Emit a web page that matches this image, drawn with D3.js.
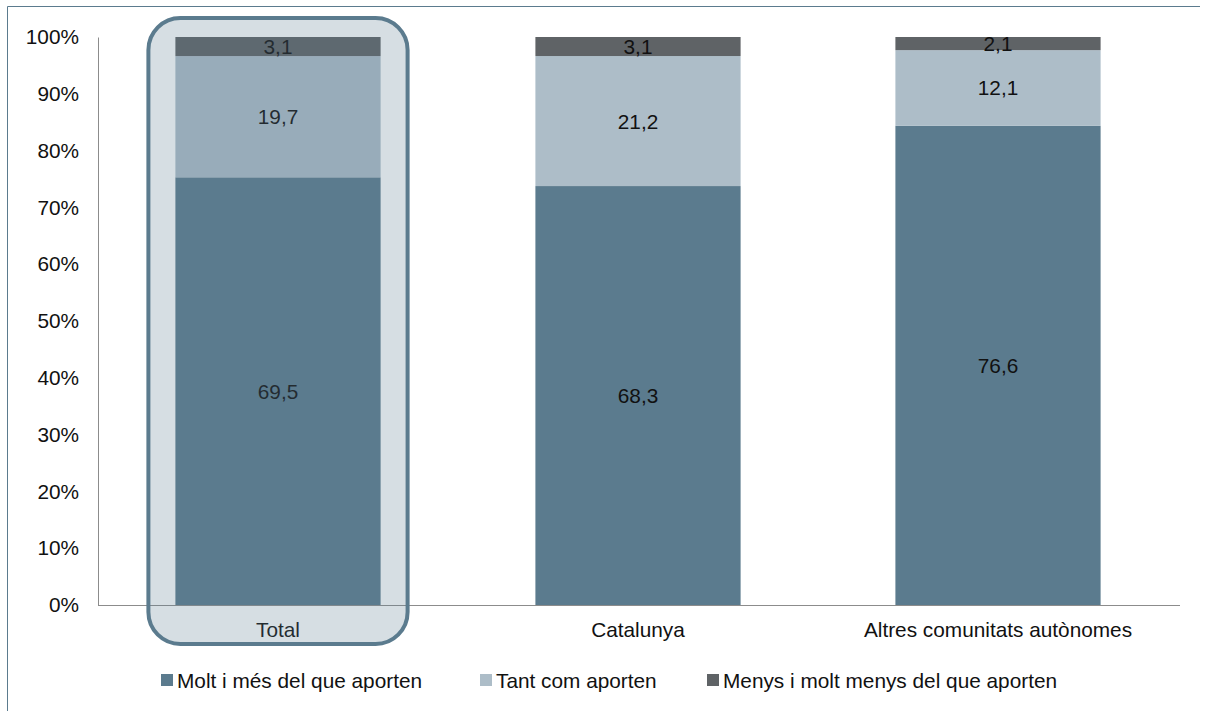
<!DOCTYPE html>
<html>
<head>
<meta charset="utf-8">
<script src="https://cdn.jsdelivr.net/npm/d3@7"></script>
<style>
  body { margin: 0; background: #fff; }
  svg { display: block; font-family: "Liberation Sans", Arial, sans-serif; }
</style>
</head>
<body>
<div id="chart"></div>
<script>
const categories = ['Total', 'Catalunya', 'Altres comunitats autònomes'];
const seriesNames = ['Molt i més del que aporten', 'Tant com aporten', 'Menys i molt menys del que aporten'];
const molt = [69.5, 68.3, 76.6];
const tant = [19.7, 21.2, 12.1];
const menys = [3.1, 3.1, 2.1];
const tickLabels = ['0%', '10%', '20%', '30%', '40%', '50%', '60%', '70%', '80%', '90%', '100%'];

const colors = ['#5b7b8e', '#adbdc8', '#5f6366'];
const fontSize = '20.8px';

const width = 1207, height = 711;
const x0 = 98, x1 = 1178, yTop = 37, yBottom = 605;

const rows = categories.map((c, i) => ({ cat: c, s0: molt[i], s1: tant[i], s2: menys[i] }));
const keys = ['s0', 's1', 's2'];

const stack = d3.stack().keys(keys).offset(d3.stackOffsetExpand);
const stacked = stack(rows);

const x = d3.scaleBand().domain(categories).range([x0, x1]).paddingInner(0.43).paddingOuter(0.215);
const y = d3.scaleLinear().domain([0, 1]).range([yBottom, yTop]);

const svg = d3.select('#chart').append('svg')
  .attr('width', width)
  .attr('height', height);

// outer frame (top and left only)
svg.append('path')
  .attr('d', `M7.5,${height} L7.5,6.5 L1200,6.5`)
  .attr('fill', 'none')
  .attr('stroke', '#5b7b8e')
  .attr('stroke-width', 1);

// bars
const layer = svg.selectAll('.layer')
  .data(stacked)
  .enter()
  .append('g')
  .attr('class', 'layer')
  .attr('fill', (d, i) => colors[i]);

layer.selectAll('rect')
  .data(d => d)
  .enter()
  .append('rect')
  .attr('x', d => x(d.data.cat))
  .attr('y', d => y(d[1]))
  .attr('width', x.bandwidth())
  .attr('height', d => y(d[0]) - y(d[1]));

// value labels
stacked.forEach((s, si) => {
  svg.selectAll('.lbl' + si)
    .data(s)
    .enter()
    .append('text')
    .attr('x', d => x(d.data.cat) + x.bandwidth() / 2)
    .attr('y', d => (y(d[0]) + y(d[1])) / 2)
    .attr('dy', '0.36em')
    .attr('text-anchor', 'middle')
    .style('font-size', fontSize)
    .style('fill', '#111')
    .text(d => d3.format('.1f')(d.data[s.key]).replace('.', ','));
});

// axes
const yAxis = d3.axisLeft(y)
  .tickValues(d3.range(0, 1.0001, 0.1))
  .tickSize(0)
  .tickPadding(19)
  .tickFormat((d, i) => tickLabels[i]);

const gy = svg.append('g')
  .attr('transform', `translate(${x0},0)`)
  .call(yAxis);
gy.select('.domain').attr('stroke', '#8c8c8c');
gy.selectAll('text')
  .style('font-size', fontSize)
  .style('fill', '#111')
  .style('font-family', '"Liberation Sans", Arial, sans-serif');

const xAxis = d3.axisBottom(x).tickSize(0).tickPadding(17);
const gx = svg.append('g')
  .attr('transform', `translate(0,${yBottom})`)
  .call(xAxis);
gx.select('.domain').attr('stroke', '#8c8c8c').attr('d', `M${x0},0.5H${x1 + 2}`);
gx.selectAll('text')
  .style('font-size', fontSize)
  .style('fill', '#111')
  .style('font-family', '"Liberation Sans", Arial, sans-serif');

// highlight around Total
const hx = x('Total') - 27;
svg.append('rect')
  .attr('x', hx)
  .attr('y', 18)
  .attr('width', x.bandwidth() + 54)
  .attr('height', 626)
  .attr('rx', 32)
  .attr('ry', 32)
  .attr('fill', '#5b7b8e')
  .attr('fill-opacity', 0.25)
  .attr('stroke', '#5b7b8e')
  .attr('stroke-width', 4);

// legend
const legendX = [161, 480, 707];
const legend = svg.selectAll('.legend')
  .data(seriesNames)
  .enter()
  .append('g')
  .attr('transform', (d, i) => `translate(${legendX[i]},680)`);

legend.append('rect')
  .attr('x', 0)
  .attr('y', -6)
  .attr('width', 12)
  .attr('height', 12)
  .attr('fill', (d, i) => colors[i]);

legend.append('text')
  .attr('x', 16)
  .attr('dy', '0.36em')
  .style('font-size', fontSize)
  .style('fill', '#111')
  .text(d => d);
</script>
</body>
</html>
